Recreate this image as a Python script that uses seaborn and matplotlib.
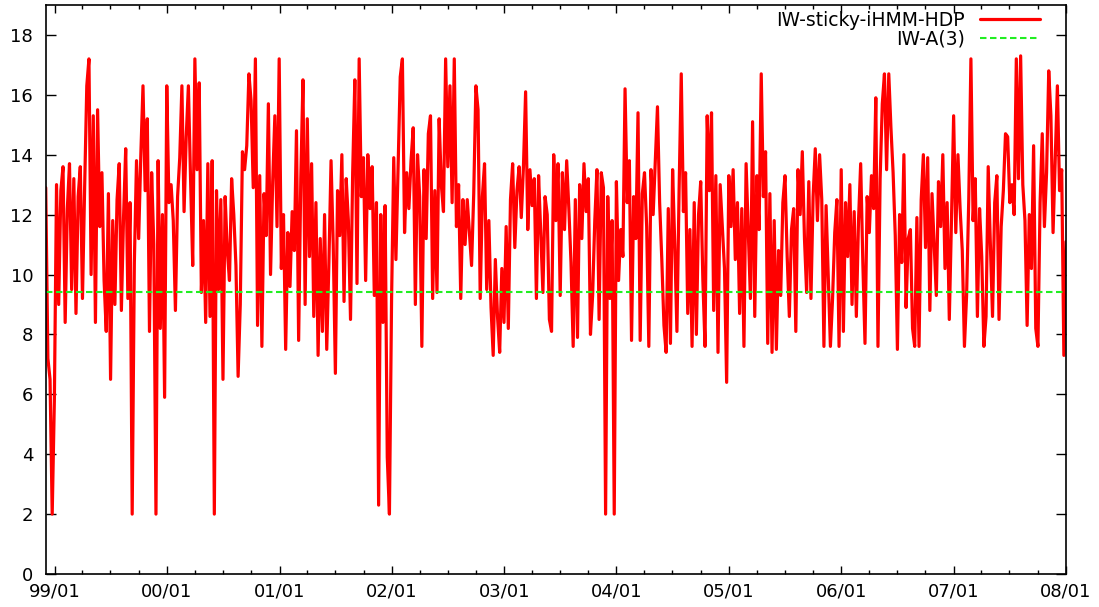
import numpy as np
import pandas as pd
import matplotlib
matplotlib.use("Agg")
import matplotlib.pyplot as plt
import matplotlib.dates as mdates
import seaborn as sns

# weekly values, one list per year
start_1998 = [12.9, 7.2, 6.5, 2.0]
y1999 = [5.8, 13.0, 9.0, 12.8, 13.6, 8.4, 12.2, 13.7, 9.5, 13.2, 8.7, 12.6, 13.6,
         9.2, 12.9, 16.3, 17.2, 10.0, 15.3, 8.4, 15.5, 11.6, 13.4, 9.8, 8.1, 12.7,
         6.5, 11.8, 9.0, 12.5, 13.7, 8.8, 11.9, 14.2, 9.2, 12.4, 2.0, 10.4, 13.8,
         11.2, 14.0, 16.3, 12.8, 15.2, 8.1, 13.4, 11.0, 2.0, 13.8, 8.2, 12.0, 5.9]
y2000 = [16.3, 12.4, 13.0, 11.8, 8.8, 12.6, 13.9, 16.3, 12.1, 14.6, 16.3, 13.2, 10.3,
         17.2, 13.5, 16.4, 9.4, 11.8, 8.4, 13.7, 8.6, 13.8, 2.0, 12.8, 9.5, 12.5,
         6.5, 12.6, 10.8, 9.8, 13.2, 12.0, 10.3, 6.6, 9.0, 14.1, 13.5, 14.3, 16.7,
         15.8, 12.9, 17.2, 8.3, 13.3, 7.6, 12.7, 11.3, 15.7, 10.0, 13.1, 15.3, 11.6]
y2001 = [17.2, 10.2, 12.0, 7.5, 11.4, 9.6, 12.1, 10.8, 14.8, 7.8, 13.2, 16.5, 9.0,
         15.2, 10.6, 13.7, 8.6, 12.4, 7.3, 11.2, 8.1, 12.0, 7.5, 10.4, 13.8, 11.0,
         6.7, 12.8, 11.3, 14.0, 9.1, 13.2, 11.8, 8.5, 13.4, 16.5, 9.7, 17.2, 12.6,
         13.9, 9.8, 14.0, 12.2, 13.6, 9.3, 12.4, 2.3, 12.0, 8.4, 12.3, 3.9, 2.0]
y2002 = [9.2, 13.9, 10.5, 13.6, 16.6, 17.2, 11.4, 13.4, 12.2, 13.8, 14.9, 9.0, 14.0,
         12.6, 7.6, 13.5, 11.2, 14.7, 15.3, 9.2, 12.8, 9.4, 15.2, 13.0, 12.1, 17.2,
         13.6, 16.3, 12.4, 17.2, 11.6, 13.0, 9.2, 12.5, 11.0, 12.5, 11.4, 10.3, 12.7,
         16.3, 15.5, 9.2, 12.6, 13.7, 9.5, 11.8, 8.9, 7.3, 10.5, 8.6, 7.4, 10.2]
y2003 = [8.4, 11.6, 8.2, 12.5, 13.7, 10.9, 12.8, 13.6, 11.9, 13.6, 16.1, 11.5, 13.5,
         12.3, 13.2, 9.2, 13.3, 11.4, 9.4, 12.6, 12.0, 8.5, 8.1, 14.0, 11.8, 13.7,
         9.3, 13.4, 11.5, 13.8, 12.2, 10.4, 7.6, 12.5, 7.9, 13.0, 11.2, 13.7, 12.1,
         13.2, 8.0, 9.3, 11.8, 13.5, 8.5, 13.4, 12.9, 2.0, 12.6, 9.2, 11.8, 2.0]
y2004 = [13.1, 9.8, 11.5, 10.6, 16.2, 12.4, 13.8, 7.8, 12.6, 11.2, 15.4, 7.8, 12.7,
         13.4, 11.6, 7.6, 13.5, 12.0, 13.8, 15.6, 12.4, 10.5, 8.3, 7.4, 12.2, 7.7,
         13.5, 11.0, 8.1, 12.8, 16.7, 12.1, 13.4, 8.7, 11.5, 7.6, 12.4, 8.0, 12.0,
         13.1, 9.8, 7.6, 15.3, 12.8, 15.4, 8.8, 13.3, 7.4, 13.0, 11.6, 10.2, 6.4]
y2005 = [13.3, 11.6, 13.5, 10.5, 12.4, 8.7, 12.2, 7.6, 13.7, 11.5, 9.2, 15.1, 8.6,
         13.3, 11.5, 16.7, 12.6, 14.1, 7.7, 12.7, 7.4, 11.8, 7.5, 10.8, 9.3, 12.4,
         13.3, 10.6, 8.6, 11.5, 12.2, 8.1, 13.5, 12.0, 14.1, 11.2, 9.4, 13.1, 9.2,
         12.6, 14.2, 11.8, 14.0, 12.5, 7.6, 12.3, 10.0, 7.6, 9.2, 11.4, 12.5, 7.6]
y2006 = [13.5, 8.1, 12.4, 10.6, 13.0, 9.0, 12.1, 8.6, 11.8, 13.7, 10.4, 7.7, 12.6,
         11.4, 13.3, 12.2, 15.9, 7.6, 13.2, 15.7, 16.7, 13.5, 16.7, 14.9, 13.4, 11.3,
         7.5, 12.0, 10.4, 14.0, 8.9, 11.2, 11.5, 8.2, 7.6, 11.9, 7.6, 12.5, 14.0,
         10.9, 13.9, 8.8, 12.7, 11.0, 9.3, 13.1, 11.6, 14.0, 10.2, 12.4, 8.5, 11.8]
y2007 = [15.3, 11.4, 14.0, 12.2, 10.8, 7.6, 9.3, 12.5, 17.2, 11.8, 13.2, 8.6, 12.2,
         10.6, 7.6, 8.6, 13.6, 11.0, 8.6, 12.4, 13.3, 8.5, 11.6, 12.8, 14.7, 14.6,
         12.4, 13.0, 12.0, 17.2, 13.2, 17.3, 13.0, 11.8, 8.3, 12.0, 10.2, 14.3, 8.2,
         7.6, 12.4, 14.7, 11.6, 13.4, 16.8, 15.3, 11.4, 13.8, 16.3, 12.8, 13.5, 7.3]
end_2008 = [11.1]
baseline = 9.4  # IW-A(3)

values = start_1998 + y1999 + y2000 + y2001 + y2002 + y2003 + y2004 + y2005 + y2006 + y2007 + end_2008
dates = pd.date_range("1998-12-03", "2008-01-01", periods=len(values))
df = pd.DataFrame({"date": dates, "value": values})

sns.set_style("ticks")
plt.rcParams["font.family"] = ["DejaVu Sans"]
plt.rcParams["text.color"] = "black"

fig = plt.figure(figsize=(10.99, 6.07), dpi=100)
ax = fig.add_axes([0.0416, 0.0544, 0.9284, 0.9374])

sns.lineplot(data=df, x="date", y="value", ax=ax, color="#ff0000", linewidth=2.3,
             label="IW-sticky-iHMM-HDP")
ax.axhline(baseline, color="#22ee22", linewidth=1.5, linestyle=(0, (3.1, 1.7)), label="IW-A(3)")

ax.set_xlim(dates[0], dates[-1])
ax.set_ylim(0, 19)
ax.set_yticks(range(0, 19, 2))
ax.xaxis.set_major_locator(mdates.YearLocator())
ax.xaxis.set_minor_locator(mdates.MonthLocator(bymonth=[4, 7, 10]))
ax.xaxis.set_major_formatter(mdates.DateFormatter("%y/%m"))
ax.set_xlabel("")
ax.set_ylabel("")

ax.tick_params(which="both", direction="in", top=True, right=True, labelsize=13, width=1.0,
               colors="black", labelcolor="black")
ax.tick_params(axis="x", which="major", length=5.5, pad=6)
ax.tick_params(axis="x", which="minor", length=3)
ax.tick_params(axis="y", which="major", length=7, pad=9)
for sp in ax.spines.values():
    sp.set_linewidth(1.2)
    sp.set_color("black")

leg = ax.legend(loc="upper right", bbox_to_anchor=(1040 / 1099, 1 - 11 / 607), bbox_transform=fig.transFigure,
                frameon=False, markerfirst=False, fontsize=13.5, handlelength=3.2, labelspacing=-0.02,
                handletextpad=0.8, borderpad=0, borderaxespad=0)
for t in leg.get_texts():
    t.set_color("black")

fig.savefig("out.png", dpi=100)
